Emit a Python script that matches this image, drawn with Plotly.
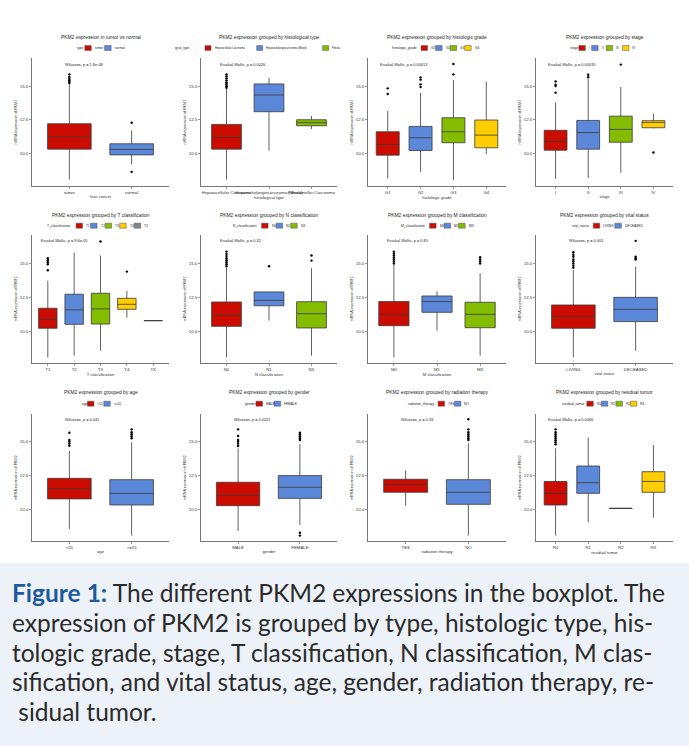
import plotly.graph_objects as go

# ---------------- palette ----------------
RED, BLUE, GREEN, YELLOW, GREY = "#CC0C00", "#5C88DA", "#84BD00", "#FFCD00", "#7C878E"
PAL = [RED, BLUE, GREEN, YELLOW, GREY]

# ---------------- data ----------------
P1_CATS = ["tumor", "normal"]
P1_Q1 = [10.30, 9.87]
P1_MED = [11.20, 10.28]
P1_Q3 = [12.20, 10.70]
P1_LO = [8.02, 9.15]
P1_HI = [15.20, 11.70]
P1_OUT = [[15.25, 15.35, 15.45, 15.55, 15.70, 15.90], [12.27, 8.60]]

P2_CATS = ["Hepatocellular Carcinoma", "Hepatocholangiocarcinoma (Mixed)", "Fibrolamellar Carcinoma"]
P2_Q1 = [10.30, 13.10, 12.05]
P2_MED = [11.18, 14.35, 12.28]
P2_Q3 = [12.15, 15.18, 12.50]
P2_LO = [8.02, 10.18, 11.80]
P2_HI = [14.80, 15.65, 12.78]
P2_OUT = [[14.90, 15.00, 15.10, 15.20, 15.30, 15.45, 15.60, 15.75, 15.90], [], []]

P3_CATS = ["G1", "G2", "G3", "G4"]
P3_Q1 = [9.85, 10.20, 10.78, 10.40]
P3_MED = [10.65, 11.15, 11.60, 11.35]
P3_Q3 = [11.60, 12.00, 12.65, 12.48]
P3_LO = [8.10, 8.60, 7.97, 9.93]
P3_HI = [13.15, 14.50, 15.47, 15.35]
P3_OUT = [[14.43, 14.85], [14.95, 15.15, 15.50, 15.67], [15.90, 16.67], []]

P4_CATS = ["I", "II", "III", "IV"]
P4_Q1 = [10.22, 10.30, 10.82, 11.90]
P4_MED = [10.87, 11.54, 11.78, 12.30]
P4_Q3 = [11.71, 12.45, 12.77, 12.43]
P4_LO = [8.07, 8.14, 8.54, 11.85]
P4_HI = [13.80, 15.57, 14.95, 12.94]
P4_OUT = [[14.53, 15.02, 15.12, 15.37], [15.69, 15.87], [16.63], [10.05]]

P5_CATS = ["T1", "T2", "T3", "T4", "TX"]
P5_Q1 = [10.25, 10.54, 10.56, 11.64, 10.81]
P5_MED = [10.91, 11.60, 11.67, 12.01, 10.81]
P5_Q3 = [11.72, 12.75, 12.82, 12.45, 10.81]
P5_LO = [8.09, 8.24, 8.60, 11.03, 10.81]
P5_HI = [13.75, 15.81, 15.59, 12.99, 10.81]
P5_OUT = [[14.51, 14.95, 15.10, 15.25, 15.39], [], [16.62], [14.41], []]

P6_CATS = ["N0", "N1", "NX"]
P6_Q1 = [10.39, 11.90, 10.27]
P6_MED = [11.20, 12.30, 11.32]
P6_Q3 = [12.18, 12.92, 12.20]
P6_LO = [8.11, 10.81, 8.24]
P6_HI = [14.70, 12.92, 14.66]
P6_OUT = [[14.80, 14.95, 15.10, 15.25, 15.40, 15.55, 15.70, 15.88], [14.80], [15.22, 15.59]]

P7_CATS = ["M0", "M1", "MX"]
P7_Q1 = [10.44, 11.42, 10.29]
P7_MED = [11.27, 12.21, 11.27]
P7_Q3 = [12.21, 12.62, 12.16]
P7_LO = [8.11, 10.07, 8.24]
P7_HI = [14.90, 12.97, 14.29]
P7_OUT = [[15.00, 15.15, 15.30, 15.45, 15.60, 15.75, 15.88], [], [15.00, 15.15, 15.30, 15.47]]

P8_CATS = ["LIVING", "DECEASED"]
P8_Q1 = [10.25, 10.74]
P8_MED = [11.10, 11.64]
P8_Q3 = [11.96, 12.52]
P8_LO = [8.11, 8.60]
P8_HI = [14.53, 14.78]
P8_OUT = [[14.70, 14.85, 15.00, 15.15, 15.30, 15.50, 15.65, 15.83], [15.30, 15.40, 15.50, 16.67]]

P9_CATS = ["<55", ">=55"]
P9_Q1 = [10.77, 10.32]
P9_MED = [11.53, 11.18]
P9_Q3 = [12.29, 12.19]
P9_LO = [8.55, 8.06]
P9_HI = [14.31, 14.95]
P9_OUT = [[14.70, 14.85, 15.00, 15.12, 15.66], [15.25, 15.40, 15.55, 15.70, 15.91]]

P10_CATS = ["MALE", "FEMALE"]
P10_Q1 = [10.27, 10.81]
P10_MED = [11.03, 11.63]
P10_Q3 = [12.00, 12.49]
P10_LO = [8.40, 8.84]
P10_HI = [14.51, 14.83]
P10_OUT = [[14.68, 14.85, 15.00, 15.12, 15.42, 15.91], [15.12, 15.25, 15.40, 15.55, 15.66, 8.06, 8.27]]

P11_CATS = ["YES", "NO"]
P11_Q1 = [11.26, 10.37]
P11_MED = [11.85, 11.26]
P11_Q3 = [12.22, 12.19]
P11_LO = [10.27, 8.06]
P11_HI = [12.87, 14.88]
P11_OUT = [[], [15.12, 15.25, 15.40, 15.55, 15.70, 15.91, 16.65]]

P12_CATS = ["R0", "R1", "R2", "RX"]
P12_Q1 = [10.32, 11.18, 10.07, 11.26]
P12_MED = [11.18, 11.97, 10.07, 12.06]
P12_Q3 = [12.06, 13.20, 10.07, 12.78]
P12_LO = [8.06, 9.04, 10.07, 9.38]
P12_HI = [14.51, 15.30, 10.07, 14.75]
P12_OUT = [[14.80, 14.95, 15.10, 15.25, 15.40, 15.55, 15.70, 15.91], [], [], []]

TITLES = ["PKM2 expression in tumor vs normal", "PKM2 expression grouped by histological type",
          "PKM2 expression grouped by histologic grade", "PKM2 expression grouped by stage",
          "PKM2 expression grouped by T classification", "PKM2 expression grouped by N classification",
          "PKM2 expression grouped by M classification", "PKM2 expression grouped by vital status",
          "PKM2 expression grouped by age", "PKM2 expression grouped by gender",
          "PKM2 expression grouped by radiation therapy", "PKM2 expression grouped by residual tumor"]
XTITLES = ["liver cancer", "histological type", "histologic grade", "stage", "T classification",
           "N classification", "M classification", "vital status", "age", "gender",
           "radiation therapy", "residual tumor"]
LEG_TITLES = ["type", "gical_type", "histologic_grade", "stage", "T_classification", "N_classification",
              "M_classification", "vital_status", "age", "gender", "radiation_therapy", "residual_tumor"]
STATS = ["Wilcoxon, p = 1.8e-08", "Kruskal-Wallis, p = 0.0026", "Kruskal-Wallis, p = 0.00013",
         "Kruskal-Wallis, p = 0.00035", "Kruskal-Wallis, p = 9.6e-05", "Kruskal-Wallis, p = 0.32",
         "Kruskal-Wallis, p = 0.85", "Wilcoxon, p = 0.001", "Wilcoxon, p = 0.041",
         "Wilcoxon, p = 0.0022", "Wilcoxon, p = 0.33", "Kruskal-Wallis, p = 0.0066"]
YTICKS = [10.0, 12.5, 15.0]
STAT_Y = 16.67

PANELS = [
    (P1_CATS, P1_Q1, P1_MED, P1_Q3, P1_LO, P1_HI, P1_OUT),
    (P2_CATS, P2_Q1, P2_MED, P2_Q3, P2_LO, P2_HI, P2_OUT),
    (P3_CATS, P3_Q1, P3_MED, P3_Q3, P3_LO, P3_HI, P3_OUT),
    (P4_CATS, P4_Q1, P4_MED, P4_Q3, P4_LO, P4_HI, P4_OUT),
    (P5_CATS, P5_Q1, P5_MED, P5_Q3, P5_LO, P5_HI, P5_OUT),
    (P6_CATS, P6_Q1, P6_MED, P6_Q3, P6_LO, P6_HI, P6_OUT),
    (P7_CATS, P7_Q1, P7_MED, P7_Q3, P7_LO, P7_HI, P7_OUT),
    (P8_CATS, P8_Q1, P8_MED, P8_Q3, P8_LO, P8_HI, P8_OUT),
    (P9_CATS, P9_Q1, P9_MED, P9_Q3, P9_LO, P9_HI, P9_OUT),
    (P10_CATS, P10_Q1, P10_MED, P10_Q3, P10_LO, P10_HI, P10_OUT),
    (P11_CATS, P11_Q1, P11_MED, P11_Q3, P11_LO, P11_HI, P11_OUT),
    (P12_CATS, P12_Q1, P12_MED, P12_Q3, P12_LO, P12_HI, P12_OUT),
]

CAPTION_LINES = [
    "<b>Figure 1:</b> The different PKM2 expressions in the boxplot. The",
    "expression of PKM2 is grouped by type, histologic type, his-",
    "tologic grade, stage, T classification, N classification, M clas-",
    "sification, and vital status, age, gender, radiation therapy, re-",
    " sidual tumor.",
]

# ---------------- layout geometry (pixels) ----------------
W, H = 689, 746
COLS = [(32, 169), (201, 337), (368, 506), (536, 673)]
ROWS = [(58.3, 186.0), (235.0, 362.7), (414.3, 541.0)]
YRANGES = [(7.54, 17.1), (7.72, 17.1), (7.66, 17.02)]
TITLE_Y = [37.7, 215.0, 392.3]
LEGEND_Y = [48.0, 225.7, 403.7]
STAT_X = {2: -0.1, 3: -0.2, 4: -0.3, 5: -0.32}

FONT = "Liberation Sans"
AX = "#555555"

def px(x):
    return x / W

def py(y):
    return 1 - y / H

fig = go.Figure()
annotations = []
shapes = []
layout = {}

for i, (cats, q1, med, q3, lo, hi, out) in enumerate(PANELS):
    r, c = divmod(i, 4)
    n = len(cats)
    xa = "x" if i == 0 else f"x{i+1}"
    ya = "y" if i == 0 else f"y{i+1}"
    for k in range(n):
        fig.add_trace(go.Box(
            x=[cats[k]], q1=[q1[k]], median=[med[k]], q3=[q3[k]],
            lowerfence=[lo[k]], upperfence=[hi[k]],
            fillcolor=PAL[k], line=dict(color="#3a3a3a", width=0.8),
            whiskerwidth=0, width=0.7, boxpoints=False,
            xaxis=xa, yaxis=ya, showlegend=False, hoverinfo="skip"))
        if out[k]:
            fig.add_trace(go.Scatter(
                x=[cats[k]] * len(out[k]), y=out[k], mode="markers",
                marker=dict(color="black", size=2.4), xaxis=xa, yaxis=ya,
                showlegend=False, hoverinfo="skip"))
    x0, x1 = COLS[c]
    y0, y1 = ROWS[r]
    xkey = "xaxis" if i == 0 else f"xaxis{i+1}"
    ykey = "yaxis" if i == 0 else f"yaxis{i+1}"
    layout[xkey] = dict(
        domain=[px(x0), px(x1)], anchor=ya, type="category",
        categoryorder="array", categoryarray=cats, range=[-0.6, n - 0.4],
        showline=True, linecolor=AX, linewidth=0.8, ticks="outside", ticklen=2,
        tickcolor=AX, tickwidth=0.6, tickangle=0, showgrid=False, zeroline=False,
        tickfont=dict(size=4.3, color="#333", family=FONT),
        title=dict(text=XTITLES[i], font=dict(size=4.2, color="#333", family=FONT), standoff=1))
    layout[ykey] = dict(
        domain=[py(y1), py(y0)], anchor=xa, range=list(YRANGES[r]),
        tickvals=YTICKS, ticktext=[f"{v:.1f}" for v in YTICKS],
        showline=True, linecolor=AX, linewidth=0.8, ticks="outside", ticklen=2,
        tickcolor=AX, tickwidth=0.6, showgrid=False, zeroline=False,
        tickfont=dict(size=4.4, color="#333", family=FONT),
        title=dict(text="mRNA expression of PKM2", font=dict(size=3.7, color="#333", family=FONT), standoff=2))
    # title
    annotations.append(dict(text=TITLES[i], x=px((x0 + x1) / 2), y=py(TITLE_Y[r]),
                            xref="paper", yref="paper", showarrow=False,
                            xanchor="center", yanchor="middle",
                            font=dict(size=4.9, color="#222", family=FONT)))
    # stat label
    annotations.append(dict(text=STATS[i], x=STAT_X[n], y=STAT_Y, xref=xa, yref=ya,
                            showarrow=False, xanchor="left", yanchor="middle",
                            font=dict(size=3.9, color="#222", family=FONT)))
    # legend
    ly = LEGEND_Y[r]
    if i == 1:
        fs = 2.6
        title = LEG_TITLES[i]
        labels = ["Hepatocellular Carcinoma", "Hepatocholangiocarcinoma (Mixed)", "Fibrola"]
        annotations.append(dict(text=title, x=px(172.7), y=py(ly), xref="paper", yref="paper",
                                showarrow=False, xanchor="left", yanchor="middle",
                                font=dict(size=3.2, color="#222", family=FONT)))
        starts = [205, 256.7, 322.7]
        for k, lab in enumerate(labels):
            kx = starts[k]
            shapes.append(dict(type="rect", xref="paper", yref="paper",
                               x0=px(kx), x1=px(kx + 6), y0=py(ly + 2.4), y1=py(ly - 2.4),
                               fillcolor=PAL[k], line=dict(color="#555", width=0.5)))
            annotations.append(dict(text=lab, x=px(kx + 7.5), y=py(ly), xref="paper", yref="paper",
                                    showarrow=False, xanchor="left", yanchor="middle",
                                    font=dict(size=fs, color="#222", family=FONT)))
    else:
        fs = 3.4
        cw = 0.52 * fs
        title = LEG_TITLES[i]
        tw = len(title) * cw
        key_w, g1, g2, g3 = 6.5, 2.5, 1.5, 3.0
        total = tw + sum(g1 + key_w + g2 + len(lab) * cw for lab in cats) + g3 * (n - 1)
        x = (x0 + x1) / 2 - total / 2
        annotations.append(dict(text=title, x=px(x), y=py(ly), xref="paper", yref="paper",
                                showarrow=False, xanchor="left", yanchor="middle",
                                font=dict(size=fs, color="#222", family=FONT)))
        x += tw + g1
        for k, lab in enumerate(cats):
            shapes.append(dict(type="rect", xref="paper", yref="paper",
                               x0=px(x), x1=px(x + key_w), y0=py(ly + 2.5), y1=py(ly - 2.5),
                               fillcolor=PAL[k], line=dict(color="#555", width=0.5)))
            x += key_w + g2
            annotations.append(dict(text=lab, x=px(x), y=py(ly), xref="paper", yref="paper",
                                    showarrow=False, xanchor="left", yanchor="middle",
                                    font=dict(size=fs * 0.95, color="#222", family=FONT)))
            x += len(lab) * cw + g3

# caption background
shapes.insert(0, dict(type="rect", xref="paper", yref="paper", x0=0, x1=1,
                      y0=0, y1=py(563), fillcolor="#EDF2F8", line=dict(width=0), layer="below"))
CAP_Y = [592, 622, 652, 681, 711]
for k, line in enumerate(CAPTION_LINES):
    txt = line.replace("<b>Figure 1:</b>", "<b><span style='color:#1F5A9E'>Figure 1:</span></b>")
    annotations.append(dict(text=txt, x=px(10), y=py(CAP_Y[k]), xref="paper", yref="paper",
                            showarrow=False, xanchor="left", yanchor="middle",
                            font=dict(size=24.5, color="#2B2B2B", family="Lato")))

fig.update_layout(
    width=W, height=H, margin=dict(l=0, r=0, t=0, b=0),
    paper_bgcolor="white", plot_bgcolor="white", boxmode="overlay",
    showlegend=False, annotations=annotations, shapes=shapes, **layout)

fig.write_html("out.html", config={"displayModeBar": False, "staticPlot": True},
               post_script="document.body.style.margin='0';document.body.style.overflow='hidden';")
